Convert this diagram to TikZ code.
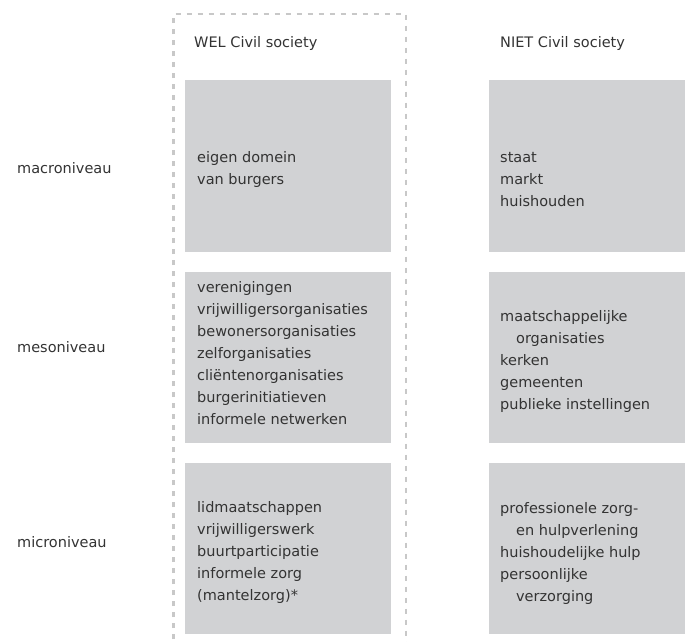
\documentclass[tikz,border=0pt]{standalone}
\usepackage{fontspec}
\setmainfont{DejaVu Sans}
\definecolor{boxgray}{HTML}{D1D2D4}
\definecolor{dashgray}{HTML}{C8C8C8}
\definecolor{txt}{HTML}{333333}
\newcommand\celllines[1]{\begin{tabular}[t]{@{}l@{}}#1\end{tabular}}
\begin{document}
\begin{tikzpicture}[x=1pt,y=-1pt,
  cell/.style={fill=boxgray,draw=none},
  lbl/.style={anchor=base west,inner sep=0pt,text=txt,font=\fontsize{14.5}{22}\selectfont},
  frame/.style={draw=dashgray,line width=2.5pt,dash pattern=on 5pt off 6pt}]
\useasboundingbox (0,0) rectangle (685,641);
\def\arraystretch{1}
% dashed frame (open at bottom)
\draw[frame] (173.5,650) -- (173.5,14) -- (406,14) -- (406,650);
% grey cells
\fill[cell] (185,80) rectangle (391,252);
\fill[cell] (185,272) rectangle (391,443);
\fill[cell] (185,463) rectangle (391,634);
\fill[cell] (489,80) rectangle (685,252);
\fill[cell] (489,272) rectangle (685,443);
\fill[cell] (489,463) rectangle (685,634);
% headers
\node[lbl] (hwel) at (194,47) {WEL Civil society};
\node[lbl] (hniet) at (500,47) {NIET Civil society};
% row labels
\node[lbl] (macro) at (17,173) {macroniveau};
\node[lbl] (meso) at (17,352) {mesoniveau};
\node[lbl] (micro) at (17,547) {microniveau};
% cell texts
\node[lbl] (wmacro) at (197,162) {\celllines{eigen domein\\van burgers}};
\node[lbl] (nmacro) at (500,162) {\celllines{staat\\markt\\huishouden}};
\node[lbl] (wmeso) at (197,292) {\celllines{verenigingen\\vrijwilligersorganisaties\\bewonersorganisaties\\zelforganisaties\\cliëntenorganisaties\\burgerinitiatieven\\informele netwerken}};
\node[lbl] (nmeso) at (500,321) {\celllines{maatschappelijke\\\hspace{1.1em}organisaties\\kerken\\gemeenten\\publieke instellingen}};
\node[lbl] (wmicro) at (197,512) {\celllines{lidmaatschappen\\vrijwilligerswerk\\buurtparticipatie\\informele zorg\\(mantelzorg)*}};
\node[lbl] (nmicro) at (500,513) {\celllines{professionele zorg-\\\hspace{1.1em}en hulpverlening\\huishoudelijke hulp\\persoonlijke\\\hspace{1.1em}verzorging}};
\end{tikzpicture}
\end{document}
